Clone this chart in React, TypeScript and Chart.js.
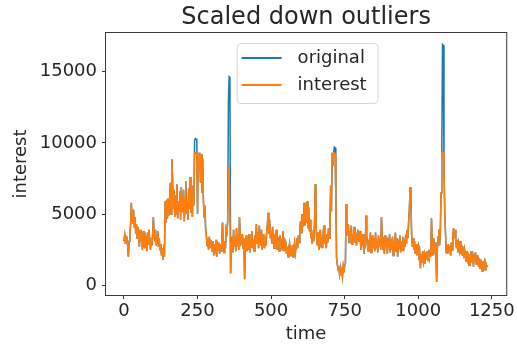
import React, { useEffect, useRef } from "react";
import { Chart, registerables } from "chart.js";

Chart.register(...registerables);

// sampled every 2.5 time steps, starting at time 0 (one row = 50 time units)
const timeStep = 2.5;
const interest: number[] = [
  3100, 3500, 2900, 3400, 3300, 2800, 2000, 3100, 3600, 4200, 5800, 4900, 4300, 5300, 4100, 4800, 3600, 4300, 3300, 4100,
  3500, 2700, 3900, 3100, 3600, 2500, 3800, 3000, 2600, 3500, 3300, 2400, 3700, 2900, 3900, 3200, 2500, 3300, 2800, 3600,
  4800, 3600, 3100, 3900, 2800, 3500, 3800, 2700, 3300, 2500, 2900, 2100, 2600, 1800, 2400, 2000, 5900, 4400, 6000, 4700,
  6100, 4900, 5600, 7200, 5000, 8850, 7600, 5400, 6700, 4800, 6300, 5000, 7100, 4700, 5900, 5200, 6600, 4600, 6900, 5300,
  5200, 6700, 4500, 6100, 7300, 5000, 5900, 4600, 6800, 5400, 7600, 5100, 6200, 4800, 7000, 5600, 9300, 9300, 9200, 9300,
  5000, 9300, 8200, 9300, 7200, 9200, 6500, 8900, 5900, 4800, 5600, 4000, 3500, 2800, 3300, 2500, 3400, 2700, 3200, 2600,
  2400, 3100, 2100, 2900, 2300, 3200, 2000, 2800, 2500, 3000, 2200, 2900, 2400, 3300, 4400, 2900, 2300, 3100, 2600, 4000,
  3800, 4500, 7400, 8450, 8450, 850, 2600, 3400, 2300, 3900, 2700, 3300, 2400, 4000, 2800, 3600, 2500, 4800, 3500, 2900,
  3000, 3600, 2600, 3300, 420, 2800, 3500, 2400, 3300, 2500, 3600, 2300, 3400, 2700, 3800, 2600, 3200, 2400, 3500, 2900,
  4300, 3000, 3700, 2600, 4200, 3300, 2800, 3900, 2500, 3600, 3100, 2600, 3400, 2800, 3700, 4300, 5100, 3600, 4600, 3300,
  3800, 2900, 4100, 3200, 2600, 3600, 2800, 3900, 2500, 3400, 3000, 2400, 3500, 2700, 3300, 2500, 3800, 2900, 2400, 3100,
  2900, 2200, 2700, 2000, 2600, 2900, 2100, 2500, 2300, 2800, 2000, 2600, 3000, 2300, 2700, 3300, 2600, 3500, 3000, 3900,
  4500, 3700, 5000, 4100, 4600, 5800, 4200, 5700, 4400, 5900, 4000, 5500, 3800, 4600, 3300, 3900, 2900, 3600, 3100, 4300,
  7100, 4400, 3200, 2800, 3700, 2500, 3500, 3900, 2700, 3300, 2600, 3800, 4200, 2900, 3400, 2600, 3600, 3000, 4000, 3300,
  4500, 7000, 5200, 9300, 8400, 9300, 9300, 9200, 6200, 1900, 1500, 1100, 1300, 800, 1200, 700, 1000, 600, 1300, 900,
  1400, 1500, 5700, 4100, 3500, 4300, 3000, 3800, 3400, 4200, 2900, 3600, 3200, 4100, 3000, 3700, 2800, 3500, 3900, 3100,
  3100, 3800, 2500, 3400, 2800, 3600, 2200, 3300, 2600, 4900, 3500, 2800, 2400, 3200, 2700, 3700, 2300, 3000, 3500, 2600,
  3300, 2400, 3700, 2600, 3100, 2300, 3500, 2800, 3200, 2500, 4800, 3400, 2500, 3100, 2200, 3500, 2700, 3300, 2200, 3000,
  2700, 3600, 2300, 3200, 2500, 3400, 2100, 3100, 2800, 3700, 2400, 3300, 2000, 2900, 2600, 3500, 2300, 3100, 2500, 3400,
  2400, 3200, 2700, 3600, 2900, 3900, 3300, 4500, 5400, 6900, 6200, 3600, 2700, 3300, 2500, 3100, 2200, 2900, 2100, 2600,
  2800, 2100, 2300, 1200, 2200, 1600, 2400, 1700, 2100, 1500, 2300, 1800, 2400, 1700, 2200, 1900, 2500, 2000, 4700, 3000,
  2100, 3300, 2600, 3000, 2100, 230, 2600, 3400, 3900, 2800, 3700, 6500, 9300, 9300, 9300, 8300, 5200, 3800, 2300, 2800,
  2200, 2900, 2400, 2700, 2100, 3000, 2500, 3500, 4000, 3300, 3900, 3100, 2600, 3200, 2300, 2900, 2500, 3100, 2200, 2800,
  2100, 2700, 1900, 2500, 2200, 1700, 2400, 1900, 2300, 1400, 2200, 1800, 2400, 1600, 2100, 1300, 2000, 1700, 2300, 1500,
  1500, 2100, 1300, 1900, 1200, 1800, 1400, 1000, 1700, 1300, 1600, 1100, 1500, 1300, 1400,
];

// the original series differs from "interest" only at the outliers
const outlierTimes: number[] = [240, 242.5, 245, 247.5, 355, 357.5, 360, 715, 717.5, 1082.5, 1085];
const outlierValues: number[] = [10150, 10300, 10250, 10300, 12900, 14650, 14600, 9700, 9650, 16900, 16850];

const xTickValues: number[] = [0, 250, 500, 750, 1000, 1250];
const yTickValues: number[] = [0, 5000, 10000, 15000];
const seriesNames: string[] = ["original", "interest"];
const seriesColors: string[] = ["#1f77b4", "#ff7f0e"];

const FONT = "'DejaVu Sans', sans-serif";
const TEXT = "#262626";

const textPlugin = {
  id: "textPlugin",
  afterDraw(chart: any) {
    const { ctx, chartArea: ca } = chart;
    ctx.save();
    // spines
    ctx.strokeStyle = "#3a3a3a";
    ctx.lineWidth = 1;
    ctx.strokeRect(ca.left - 0.5, ca.top - 0.5, ca.right - ca.left + 1, ca.bottom - ca.top + 1);

    const cx = (ca.left + ca.right) / 2;
    ctx.fillStyle = TEXT;
    ctx.textAlign = "center";
    ctx.textBaseline = "middle";
    ctx.font = `24px ${FONT}`;
    ctx.fillText("Scaled down outliers", cx, 18);

    ctx.font = `18px ${FONT}`;
    ctx.fillText("time", cx, 334);
    ctx.save();
    ctx.translate(21, (ca.top + ca.bottom) / 2);
    ctx.rotate(-Math.PI / 2);
    ctx.fillText("interest", 0, 0);
    ctx.restore();

    // legend (upper center)
    const bw = 141, bh = 60;
    const bx = cx - bw / 2 + 1, by = ca.top + 10;
    ctx.beginPath();
    ctx.roundRect(bx + 0.5, by + 0.5, bw, bh, 4);
    ctx.fillStyle = "rgba(255,255,255,0.8)";
    ctx.fill();
    ctx.strokeStyle = "#d6d6d6";
    ctx.stroke();
    ctx.font = `18px ${FONT}`;
    ctx.textAlign = "left";
    seriesNames.forEach((name, i) => {
      const ly = by + 15 + i * 27;
      ctx.strokeStyle = seriesColors[i];
      ctx.lineWidth = 2;
      ctx.beginPath();
      ctx.moveTo(bx + 5, ly);
      ctx.lineTo(bx + 45, ly);
      ctx.stroke();
      ctx.fillStyle = TEXT;
      ctx.fillText(name, bx + 61, ly);
    });
    ctx.restore();
  },
};

export default function App() {
  const ref = useRef<HTMLCanvasElement | null>(null);
  useEffect(() => {
    if (!ref.current) return;
    const time = interest.map((_, i) => i * timeStep);
    const original = interest.map((v, i) => {
      const k = outlierTimes.indexOf(time[i]);
      return k >= 0 ? outlierValues[k] : v;
    });
    const chart = new Chart(ref.current, {
      type: "line",
      data: {
        datasets: [
          {
            label: seriesNames[0],
            data: time.map((t, i) => ({ x: t, y: original[i] })),
            borderColor: seriesColors[0],
            borderWidth: 1.5,
            pointRadius: 0,
            order: 1,
          },
          {
            label: seriesNames[1],
            data: time.map((t, i) => ({ x: t, y: interest[i] })),
            borderColor: seriesColors[1],
            borderWidth: 1.5,
            pointRadius: 0,
            order: 0,
          },
        ],
      },
      options: {
        responsive: false,
        animation: false,
        layout: { padding: { top: 33, right: 8, left: 0, bottom: 0 } },
        plugins: {
          legend: { display: false },
          title: { display: false },
          tooltip: { enabled: false },
        },
        scales: {
          x: {
            type: "linear",
            min: -61,
            max: 1299,
            afterBuildTicks: (s: any) => {
              s.ticks = xTickValues.map((v) => ({ value: v }));
            },
            afterFit: (s: any) => {
              s.height = 51;
            },
            grid: { drawOnChartArea: false, drawTicks: true, tickLength: 4, color: "#333" },
            border: { display: false },
            ticks: {
              font: { family: FONT, size: 18 },
              color: TEXT,
              padding: 2,
              maxRotation: 0,
              callback: (v: any) => String(v),
            },
          },
          y: {
            type: "linear",
            min: -681,
            max: 17713,
            afterBuildTicks: (s: any) => {
              s.ticks = yTickValues.map((v) => ({ value: v }));
            },
            afterFit: (s: any) => {
              s.width = 106;
            },
            grid: { drawOnChartArea: false, drawTicks: true, tickLength: 4, color: "#333" },
            border: { display: false },
            ticks: {
              font: { family: FONT, size: 18 },
              color: TEXT,
              padding: 5,
              callback: (v: any) => String(v),
            },
          },
        },
      },
      plugins: [textPlugin],
    });
    return () => chart.destroy();
  }, []);
  return (
    <div style={{ position: "absolute", left: 0, top: 0, width: 517, height: 346, background: "#fff" }}>
      <canvas ref={ref} width={517} height={346} />
    </div>
  );
}
